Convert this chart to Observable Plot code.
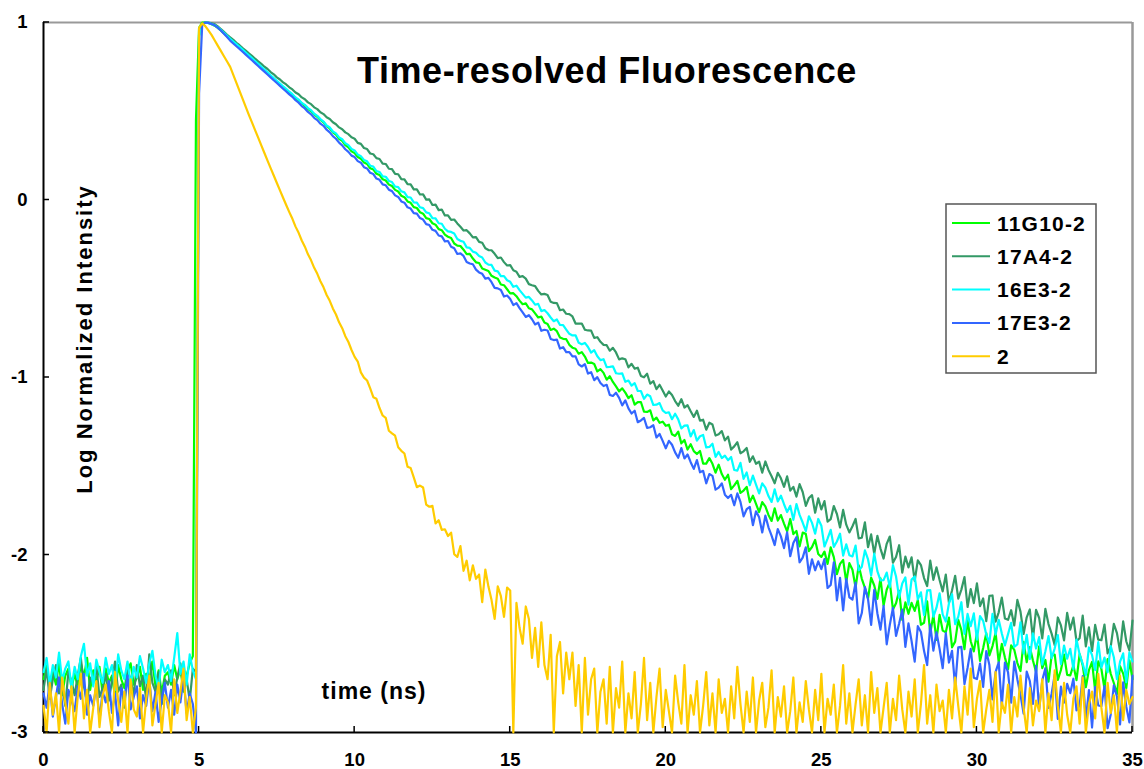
<!DOCTYPE html>
<html><head><meta charset="utf-8">
<script src="https://cdn.jsdelivr.net/npm/d3@7"></script>
<script src="https://cdn.jsdelivr.net/npm/@observablehq/plot@0.6"></script>
<style>
html,body{margin:0;padding:0;background:#fff;}
#chart{width:1144px;height:769px;}
</style></head><body><div id="chart"></div>
<script>
const title = "Time-resolved Fluorescence";
const xLabel = "time (ns)";
const yLabel = "Log Normalized Intensity";
const seriesNames = ["11G10-2","17A4-2","16E3-2","17E3-2","2"];
const seriesColors = ["#00ff00","#339966","#00ffff","#3366ff","#ffcc00"];
const xTicks = [0,5,10,15,20,25,30,35];
const yTicks = [-3,-2,-1,0,1];
const yTickLabels = ["-3","-2","-1","0","1"];
const timeStart = 0, timeStep = 0.1; // ns per sampled channel

const s11G10 = [
-2.70,-2.62,-2.77,-2.66,-2.73,-2.60,-2.79,-2.68,-2.64,-2.75,
-2.67,-2.74,-2.61,-2.69,-2.58,-2.76,-2.65,-2.71,-2.63,-2.78,
-2.64,-2.72,-2.68,-2.80,-2.62,-2.70,-2.75,-2.66,-2.61,-2.73,
-2.69,-2.63,-2.76,-2.67,-2.71,-2.60,-2.74,-2.65,-2.78,-2.68,
-2.66,-2.73,-2.62,-2.70,-2.64,-2.77,-2.68,-2.61,-2.57,0.45,
0.97,1,1,0.997,0.99,0.982,0.97,0.955,0.939,0.922,
0.905,0.889,0.873,0.857,0.841,0.825,0.809,0.793,0.777,0.761,
0.745,0.729,0.713,0.697,0.681,0.665,0.650,0.635,0.620,0.605,
0.591,0.574,0.561,0.544,0.530,0.513,0.500,0.482,0.469,0.451,
0.438,0.416,0.403,0.381,0.368,0.345,0.333,0.309,0.297,0.274,
0.264,0.242,0.232,0.211,0.203,0.179,0.172,0.148,0.141,0.117,
0.110,0.087,0.079,0.057,0.048,0.024,0.016,-0.008,-0.016,-0.040,
-0.045,-0.069,-0.077,-0.102,-0.107,-0.131,-0.139,-0.164,-0.170,-0.195,
-0.207,-0.214,-0.245,-0.257,-0.259,-0.280,-0.305,-0.304,-0.330,-0.351,
-0.355,-0.386,-0.393,-0.400,-0.427,-0.437,-0.444,-0.476,-0.480,-0.503,
-0.526,-0.525,-0.542,-0.567,-0.587,-0.582,-0.610,-0.616,-0.639,-0.662,
-0.657,-0.690,-0.698,-0.732,-0.725,-0.739,-0.775,-0.782,-0.784,-0.816,
-0.832,-0.838,-0.866,-0.857,-0.882,-0.918,-0.916,-0.924,-0.966,-0.953,
-0.974,-1.012,-0.993,-1.025,-1.050,-1.078,-1.061,-1.085,-1.116,-1.100,
-1.153,-1.139,-1.138,-1.192,-1.194,-1.185,-1.242,-1.226,-1.255,-1.249,
-1.272,-1.266,-1.320,-1.329,-1.305,-1.371,-1.352,-1.406,-1.376,-1.415,
-1.431,-1.414,-1.485,-1.485,-1.454,-1.486,-1.536,-1.491,-1.544,-1.576,
-1.548,-1.629,-1.608,-1.582,-1.650,-1.637,-1.616,-1.702,-1.666,-1.712,
-1.758,-1.702,-1.726,-1.774,-1.808,-1.737,-1.806,-1.775,-1.823,-1.867,
-1.797,-1.882,-1.865,-1.951,-1.874,-1.881,-1.978,-1.955,-1.915,-1.994,
-2.011,-1.981,-2.050,-1.957,-2.012,-2.108,-2.050,-2.028,-2.152,-2.046,
-2.083,-2.183,-2.058,-2.134,-2.185,-2.245,-2.128,-2.172,-2.247,-2.131,
-2.285,-2.196,-2.153,-2.307,-2.272,-2.202,-2.365,-2.267,-2.331,-2.270,
-2.315,-2.254,-2.393,-2.382,-2.261,-2.440,-2.339,-2.478,-2.337,-2.426,
-2.435,-2.353,-2.520,-2.488,-2.365,-2.423,-2.531,-2.368,-2.486,-2.543,
-2.441,-2.597,-2.524,-2.440,-2.566,-2.513,-2.439,-2.605,-2.501,-2.578,
-2.644,-2.509,-2.534,-2.609,-2.654,-2.489,-2.604,-2.519,-2.594,-2.659,
-2.514,-2.637,-2.591,-2.714,-2.568,-2.561,-2.704,-2.648,-2.561,-2.675,
-2.678,-2.621,-2.705,-2.558,-2.622,-2.745,-2.648,-2.602,-2.765,-2.599,
-2.642,-2.754,-2.587,-2.669,-2.721,-2.784,-2.626,-2.668,-2.750,-2.593,
-2.70];

const s17A4 = [
-2.76,-2.64,-2.81,-2.70,-2.62,-2.78,-2.73,-2.85,-2.66,-2.71,
-2.79,-2.68,-2.58,-2.74,-2.83,-2.69,-2.72,-2.63,-2.80,-2.75,
-2.67,-2.82,-2.71,-2.60,-2.77,-2.73,-2.86,-2.65,-2.70,-2.79,
-2.62,-2.74,-2.68,-2.81,-2.56,-2.72,-2.77,-2.66,-2.84,-2.70,
-2.73,-2.65,-2.79,-2.69,-2.61,-2.76,-2.70,-2.82,-2.64,-2.66,
0.93,0.99,1,1,0.995,0.99,0.978,0.963,0.947,0.931,
0.916,0.902,0.886,0.872,0.856,0.842,0.826,0.812,0.796,0.781,
0.767,0.751,0.738,0.721,0.708,0.691,0.679,0.663,0.651,0.635,
0.623,0.606,0.596,0.578,0.568,0.550,0.540,0.522,0.512,0.494,
0.484,0.466,0.456,0.438,0.427,0.409,0.399,0.381,0.371,0.353,
0.345,0.322,0.316,0.293,0.287,0.262,0.258,0.236,0.231,0.205,
0.203,0.176,0.174,0.147,0.145,0.118,0.116,0.089,0.088,0.060,
0.060,0.031,0.032,0.002,0.003,-0.028,-0.026,-0.057,-0.054,-0.087,
-0.087,-0.112,-0.110,-0.132,-0.151,-0.172,-0.170,-0.188,-0.211,-0.209,
-0.236,-0.241,-0.272,-0.282,-0.283,-0.303,-0.327,-0.324,-0.350,-0.369,
-0.367,-0.396,-0.404,-0.433,-0.429,-0.443,-0.474,-0.480,-0.485,-0.512,
-0.532,-0.529,-0.535,-0.573,-0.580,-0.581,-0.621,-0.617,-0.641,-0.643,
-0.656,-0.696,-0.696,-0.696,-0.731,-0.735,-0.736,-0.777,-0.773,-0.799,
-0.816,-0.818,-0.849,-0.833,-0.859,-0.898,-0.892,-0.897,-0.943,-0.923,
-0.950,-0.945,-0.991,-0.999,-0.979,-1.035,-1.020,-1.066,-1.041,-1.073,
-1.107,-1.079,-1.099,-1.133,-1.159,-1.122,-1.169,-1.156,-1.190,-1.222,
-1.187,-1.243,-1.238,-1.294,-1.255,-1.265,-1.327,-1.320,-1.302,-1.354,
-1.333,-1.406,-1.388,-1.365,-1.427,-1.416,-1.397,-1.475,-1.444,-1.486,
-1.474,-1.536,-1.473,-1.521,-1.556,-1.596,-1.537,-1.568,-1.616,-1.557,
-1.637,-1.616,-1.671,-1.601,-1.645,-1.723,-1.679,-1.663,-1.762,-1.681,
-1.743,-1.696,-1.812,-1.798,-1.724,-1.769,-1.845,-1.746,-1.829,-1.873,
-1.838,-1.797,-1.906,-1.903,-1.816,-1.956,-1.884,-1.994,-1.892,-1.964,
-2.020,-1.937,-1.896,-2.043,-2.011,-1.945,-2.100,-2.009,-2.070,-2.013,
-2.146,-2.030,-2.057,-2.130,-2.175,-2.032,-2.140,-2.069,-2.141,-2.205,
-2.110,-2.269,-2.198,-2.117,-2.246,-2.195,-2.124,-2.293,-2.192,-2.271,
-2.160,-2.288,-2.245,-2.373,-2.230,-2.228,-2.375,-2.323,-2.240,-2.358,
-2.365,-2.311,-2.397,-2.253,-2.319,-2.445,-2.351,-2.307,-2.473,-2.309,
-2.355,-2.470,-2.304,-2.389,-2.443,-2.508,-2.352,-2.397,-2.481,-2.326,
-2.420,-2.353,-2.486,-2.469,-2.342,-2.515,-2.408,-2.541,-2.394,-2.477,
-2.480,-2.392,-2.554,-2.516,-2.388,-2.440,-2.542,-2.374,-2.486,-2.538,
-2.37];

const s16E3 = [
-2.66,-2.58,-2.73,-2.62,-2.69,-2.55,-2.71,-2.64,-2.60,-2.75,
-2.63,-2.70,-2.57,-2.50,-2.68,-2.61,-2.74,-2.59,-2.66,-2.72,
-2.58,-2.67,-2.62,-2.76,-2.56,-2.65,-2.70,-2.60,-2.73,-2.63,
-2.69,-2.57,-2.64,-2.72,-2.61,-2.54,-2.68,-2.75,-2.59,-2.66,
-2.62,-2.71,-2.58,-2.44,-2.67,-2.60,-2.73,-2.56,-2.65,-2.70,
0.92,0.985,1,0.998,0.992,0.985,0.973,0.958,0.942,0.925,
0.908,0.893,0.878,0.863,0.847,0.831,0.815,0.799,0.783,0.767,
0.751,0.735,0.719,0.703,0.687,0.671,0.656,0.641,0.626,0.610,
0.596,0.578,0.566,0.547,0.536,0.518,0.506,0.486,0.474,0.456,
0.442,0.420,0.409,0.386,0.375,0.353,0.342,0.320,0.309,0.287,
0.279,0.256,0.247,0.226,0.218,0.193,0.188,0.163,0.158,0.133,
0.131,0.107,0.101,0.076,0.073,0.049,0.043,0.016,0.014,-0.013,
-0.015,-0.041,-0.046,-0.070,-0.075,-0.102,-0.104,-0.131,-0.134,-0.162,
-0.177,-0.180,-0.189,-0.220,-0.230,-0.235,-0.267,-0.270,-0.291,-0.297,
-0.316,-0.324,-0.352,-0.364,-0.366,-0.398,-0.402,-0.429,-0.429,-0.452,
-0.461,-0.489,-0.483,-0.508,-0.529,-0.550,-0.546,-0.566,-0.590,-0.585,
-0.626,-0.620,-0.638,-0.662,-0.683,-0.673,-0.704,-0.705,-0.730,-0.754,
-0.763,-0.762,-0.804,-0.813,-0.805,-0.828,-0.860,-0.846,-0.880,-0.902,
-0.897,-0.942,-0.940,-0.937,-0.976,-0.979,-0.977,-1.024,-1.017,-1.046,
-1.032,-1.076,-1.076,-1.120,-1.096,-1.106,-1.155,-1.153,-1.144,-1.185,
-1.200,-1.196,-1.235,-1.204,-1.236,-1.287,-1.271,-1.270,-1.332,-1.296,
-1.356,-1.331,-1.324,-1.394,-1.391,-1.373,-1.447,-1.419,-1.454,-1.440,
-1.466,-1.448,-1.521,-1.525,-1.481,-1.571,-1.535,-1.607,-1.553,-1.603,
-1.653,-1.596,-1.620,-1.668,-1.701,-1.630,-1.698,-1.666,-1.714,-1.758,
-1.723,-1.802,-1.713,-1.774,-1.817,-1.866,-1.782,-1.819,-1.880,-1.797,
-1.835,-1.952,-1.908,-1.858,-1.954,-1.924,-1.880,-2.004,-1.940,-2.001,
-2.008,-1.947,-2.087,-2.066,-1.974,-2.025,-2.116,-1.992,-2.091,-2.143,
-2.142,-2.099,-2.181,-2.057,-2.121,-2.240,-2.160,-2.126,-2.280,-2.138,
-2.121,-2.250,-2.210,-2.339,-2.199,-2.198,-2.347,-2.297,-2.216,-2.336,
-2.375,-2.273,-2.221,-2.390,-2.348,-2.266,-2.444,-2.332,-2.401,-2.329,
-2.477,-2.344,-2.371,-2.448,-2.495,-2.332,-2.448,-2.365,-2.442,-2.509,
-2.446,-2.382,-2.517,-2.503,-2.379,-2.555,-2.450,-2.586,-2.442,-2.527,
-2.463,-2.618,-2.542,-2.457,-2.581,-2.526,-2.451,-2.615,-2.510,-2.584,
-2.529,-2.643,-2.476,-2.560,-2.613,-2.677,-2.521,-2.564,-2.648,-2.491,
-2.635,-2.578,-2.660,-2.513,-2.576,-2.699,-2.601,-2.554,-2.717,-2.549,
-2.60];

const s17E3 = [
-2.78,-2.86,-2.72,-2.91,-2.80,-2.69,-2.84,-2.95,-2.76,-2.82,
-2.88,-2.74,-2.81,-2.67,-2.90,-2.79,-2.85,-2.73,-2.93,-2.77,
-2.83,-2.71,-2.89,-2.78,-2.96,-2.75,-2.82,-2.68,-2.87,-2.80,
-2.74,-2.92,-2.79,-2.85,-2.70,-2.88,-2.77,-2.94,-2.81,-2.72,
-2.86,-2.76,-2.90,-2.73,-2.83,-2.69,-2.89,-2.78,-2.84,-3,
0.6,0.985,1,0.998,0.992,0.984,0.971,0.955,0.937,0.918,
0.898,0.882,0.866,0.851,0.835,0.819,0.803,0.787,0.771,0.755,
0.739,0.723,0.707,0.691,0.675,0.659,0.643,0.627,0.611,0.595,
0.581,0.562,0.548,0.529,0.516,0.496,0.483,0.463,0.450,0.430,
0.418,0.396,0.381,0.360,0.345,0.323,0.308,0.286,0.271,0.250,
0.242,0.219,0.210,0.185,0.178,0.153,0.146,0.121,0.114,0.088,
0.083,0.058,0.050,0.026,0.017,-0.008,-0.015,-0.041,-0.048,-0.074,
-0.077,-0.102,-0.110,-0.136,-0.141,-0.168,-0.174,-0.200,-0.205,-0.233,
-0.231,-0.263,-0.272,-0.304,-0.301,-0.315,-0.349,-0.358,-0.362,-0.392,
-0.408,-0.416,-0.443,-0.439,-0.463,-0.495,-0.498,-0.507,-0.544,-0.538,
-0.558,-0.592,-0.581,-0.609,-0.633,-0.659,-0.649,-0.672,-0.701,-0.691,
-0.737,-0.731,-0.735,-0.783,-0.789,-0.787,-0.837,-0.829,-0.857,-0.857,
-0.881,-0.881,-0.926,-0.938,-0.925,-0.978,-0.970,-1.015,-0.998,-1.031,
-1.048,-1.041,-1.098,-1.104,-1.086,-1.115,-1.157,-1.129,-1.174,-1.203,
-1.187,-1.252,-1.242,-1.228,-1.284,-1.280,-1.269,-1.338,-1.318,-1.357,
-1.399,-1.357,-1.379,-1.422,-1.452,-1.398,-1.456,-1.434,-1.477,-1.515,
-1.465,-1.534,-1.526,-1.596,-1.544,-1.554,-1.632,-1.620,-1.596,-1.660,
-1.679,-1.661,-1.720,-1.653,-1.701,-1.782,-1.742,-1.729,-1.832,-1.754,
-1.788,-1.873,-1.778,-1.844,-1.891,-1.944,-1.854,-1.895,-1.961,-1.872,
-2.007,-1.933,-1.899,-2.041,-2.015,-1.957,-2.106,-2.024,-2.086,-2.036,
-2.080,-2.023,-2.186,-2.169,-2.042,-2.256,-2.129,-2.312,-2.135,-2.238,
-2.251,-2.156,-2.385,-2.327,-2.181,-2.249,-2.394,-2.196,-2.328,-2.420,
-2.287,-2.503,-2.394,-2.298,-2.456,-2.386,-2.308,-2.518,-2.385,-2.485,
-2.601,-2.401,-2.434,-2.540,-2.620,-2.392,-2.539,-2.435,-2.529,-2.638,
-2.440,-2.606,-2.540,-2.742,-2.520,-2.517,-2.727,-2.635,-2.529,-2.691,
-2.699,-2.612,-2.743,-2.541,-2.620,-2.813,-2.658,-2.605,-2.853,-2.606,
-2.661,-2.832,-2.600,-2.701,-2.788,-2.894,-2.657,-2.710,-2.839,-2.625,
-2.870,-2.706,-2.638,-2.862,-2.781,-2.674,-2.924,-2.742,-2.832,-2.726,
-2.778,-2.697,-2.876,-2.849,-2.682,-2.926,-2.761,-2.972,-2.743,-2.848,
-2.851,-2.739,-2.976,-2.898,-2.735,-2.797,-2.955,-2.718,-2.855,-2.943,
-2.68];

const s2 = [
-2.85,-3,-2.72,-2.90,-2.78,-3,-2.69,-2.83,-2.95,-2.74,
-3,-2.80,-2.67,-2.92,-2.76,-3,-2.86,-2.71,-2.97,-2.79,
-2.73,-2.88,-3,-2.66,-2.82,-2.94,-2.77,-3,-2.70,-2.87,
-2.91,-2.75,-3,-2.81,-2.68,-2.96,-2.84,-2.72,-3,-2.79,
-2.83,-3,-2.70,-2.89,-2.77,-2.64,-2.93,-2.80,-3,-2.86,
0.97,0.995,0.98,0.955,0.93,0.90,0.87,0.84,0.81,0.78,
0.75,0.705,0.66,0.615,0.57,0.525,0.48,0.437,0.394,0.351,
0.308,0.265,0.222,0.18,0.138,0.096,0.054,0.013,-0.028,-0.068,
-0.106,-0.150,-0.185,-0.228,-0.263,-0.306,-0.340,-0.382,-0.416,-0.458,
-0.492,-0.535,-0.568,-0.611,-0.645,-0.689,-0.722,-0.767,-0.800,-0.845,
-0.884,-0.910,-0.971,-1.001,-1.017,-1.061,-1.111,-1.120,-1.172,-1.214,
-1.228,-1.300,-1.315,-1.328,-1.393,-1.413,-1.428,-1.503,-1.510,-1.563,
-1.618,-1.609,-1.620,-1.716,-1.728,-1.723,-1.822,-1.804,-1.858,-1.855,
-1.893,-1.874,-1.995,-2.011,-1.950,-2.089,-2.032,-2.143,-2.058,-2.134,
-2.110,-2.266,-2.082,-2.178,-2.254,-2.360,-2.176,-2.232,-2.348,-2.184,
-2.20,-3,-2.27,-2.41,-2.50,-2.29,-2.36,-2.58,-2.41,-2.63,
-2.38,-2.62,-2.70,-2.45,-3,-2.57,-2.49,-2.78,-2.55,-2.70,
-2.55,-2.85,-2.62,-3,-2.58,-2.90,-2.70,-2.64,-3,-2.77,
-2.70,-2.95,-2.63,-3,-2.75,-2.86,-2.60,-3,-2.78,-2.92,
-2.66,-3,-2.84,-2.58,-2.93,-2.72,-3,-2.80,-2.64,-2.97,
-2.76,-2.88,-3,-2.68,-2.83,-2.95,-2.62,-3,-2.79,-2.90,
-2.71,-3,-2.85,-2.66,-2.96,-2.78,-3,-2.70,-2.89,-2.81,
-3,-2.74,-2.92,-2.63,-2.84,-3,-2.77,-2.94,-2.69,-3,
-2.82,-2.72,-2.97,-2.86,-2.65,-3,-2.80,-2.91,-2.74,-3,
-2.88,-2.69,-3,-2.83,-2.94,-2.71,-2.87,-3,-2.76,-2.93,
-2.67,-3,-2.81,-2.90,-2.73,-3,-2.85,-2.62,-2.95,-2.78,
-3,-2.84,-2.70,-2.96,-2.79,-3,-2.66,-2.89,-2.75,-3,
-2.86,-2.72,-3,-2.81,-2.93,-2.68,-2.87,-3,-2.77,-2.91,
-2.70,-3,-2.84,-2.62,-2.95,-2.79,-3,-2.73,-2.88,-2.82,
-3,-2.76,-2.92,-2.69,-2.85,-3,-2.74,-2.90,-2.64,-2.97,
-2.81,-2.71,-3,-2.87,-2.76,-2.94,-2.66,-3,-2.83,-2.89,
-2.73,-3,-2.80,-2.91,-2.68,-2.86,-3,-2.75,-2.96,-2.82,
-2.88,-2.70,-3,-2.78,-2.93,-2.65,-2.85,-3,-2.72,-2.90,
-3,-2.81,-2.74,-2.95,-2.69,-3,-2.84,-2.77,-2.92,-2.67,
-2.86,-3,-2.72,-2.89,-2.79,-3,-2.68,-2.93,-2.76,-2.84,
-2.80];

const seriesValues = [s11G10, s17A4, s16E3, s17E3, s2];
const tables = seriesNames.map((name, k) =>
  seriesValues[k].map((v, i) => ({t: +(timeStart + i * timeStep).toFixed(3), v, s: name})));

const font = "'Liberation Sans', Arial, Helvetica, sans-serif";
const plot = Plot.plot({
  width: 1144, height: 769,
  marginLeft: 43, marginRight: 12, marginTop: 22, marginBottom: 37,
  x: {domain: [xTicks[0], xTicks[xTicks.length - 1]], label: null},
  y: {domain: [yTicks[0], yTicks[yTicks.length - 1]], label: null},
  style: {fontFamily: font, fontSize: "18.5px", color: "#000", background: "#fff", overflow: "visible"},
  marks: [
    Plot.ruleY([yTicks[yTicks.length - 1]], {stroke: "#999", strokeWidth: 2}),
    Plot.ruleX([xTicks[xTicks.length - 1]], {stroke: "#999", strokeWidth: 2.5}),
    Plot.ruleX([xTicks[0]], {stroke: "#000", strokeWidth: 2}),
    Plot.ruleY([yTicks[0]], {stroke: "#000", strokeWidth: 2}),
    ...tables.map((tb, k) => Plot.line(tb, {x: "t", y: "v", stroke: seriesColors[k], strokeWidth: 2.2})),
    Plot.axisX(xTicks, {tickSize: 0, tickPadding: 20, label: null, fontSize: 18.5, fontWeight: "bold", tickFormat: d => String(d)}),
    Plot.axisY(yTicks, {tickSize: 0, tickPadding: 16, label: null, fontSize: 18.5, fontWeight: "bold", tickFormat: d => yTickLabels[yTicks.indexOf(d)]})
  ]
});

const svg = d3.select(plot);
const xs = plot.scale("x"), ys = plot.scale("y");
const x0 = xs.apply(xTicks[0]), yBot = ys.apply(yTicks[0]);
const tk = svg.append("g").attr("stroke", "#000").attr("stroke-width", 1.5);
xTicks.forEach(t => tk.append("line").attr("x1", xs.apply(t)).attr("x2", xs.apply(t)).attr("y1", yBot).attr("y2", yBot - 6));
yTicks.forEach(v => tk.append("line").attr("x1", x0).attr("x2", x0 + 6).attr("y1", ys.apply(v)).attr("y2", ys.apply(v)));

const txt = svg.append("g").attr("font-family", font).attr("font-weight", "bold").attr("fill", "#000");
txt.append("text").attr("x", 607).attr("y", 83).attr("text-anchor", "middle")
  .attr("font-size", 36).attr("letter-spacing", "0.55px").text(title);
txt.append("text").attr("x", 374).attr("y", 699).attr("text-anchor", "middle")
  .attr("font-size", 23).attr("letter-spacing", "1px").text(xLabel);
txt.append("text").attr("transform", "translate(92,339) rotate(-90)").attr("text-anchor", "middle")
  .attr("font-size", 22).attr("letter-spacing", "2px").text(yLabel);

const lg = svg.append("g");
lg.append("rect").attr("x", 946).attr("y", 204).attr("width", 150).attr("height", 169)
  .attr("fill", "#fff").attr("stroke", "#555").attr("stroke-width", 1.5);
seriesNames.forEach((name, k) => {
  const cy = 223 + k * 33.3;
  lg.append("line").attr("x1", 952).attr("x2", 990).attr("y1", cy).attr("y2", cy)
    .attr("stroke", seriesColors[k]).attr("stroke-width", 2);
  lg.append("text").attr("x", 997).attr("y", cy).attr("dy", "0.36em").attr("text-anchor", "start")
    .attr("font-family", font).attr("font-weight", "bold").attr("font-size", 21)
    .attr("letter-spacing", "1.2px").attr("fill", "#000").text(name);
});

document.getElementById("chart").appendChild(plot);
</script>
</body></html>
